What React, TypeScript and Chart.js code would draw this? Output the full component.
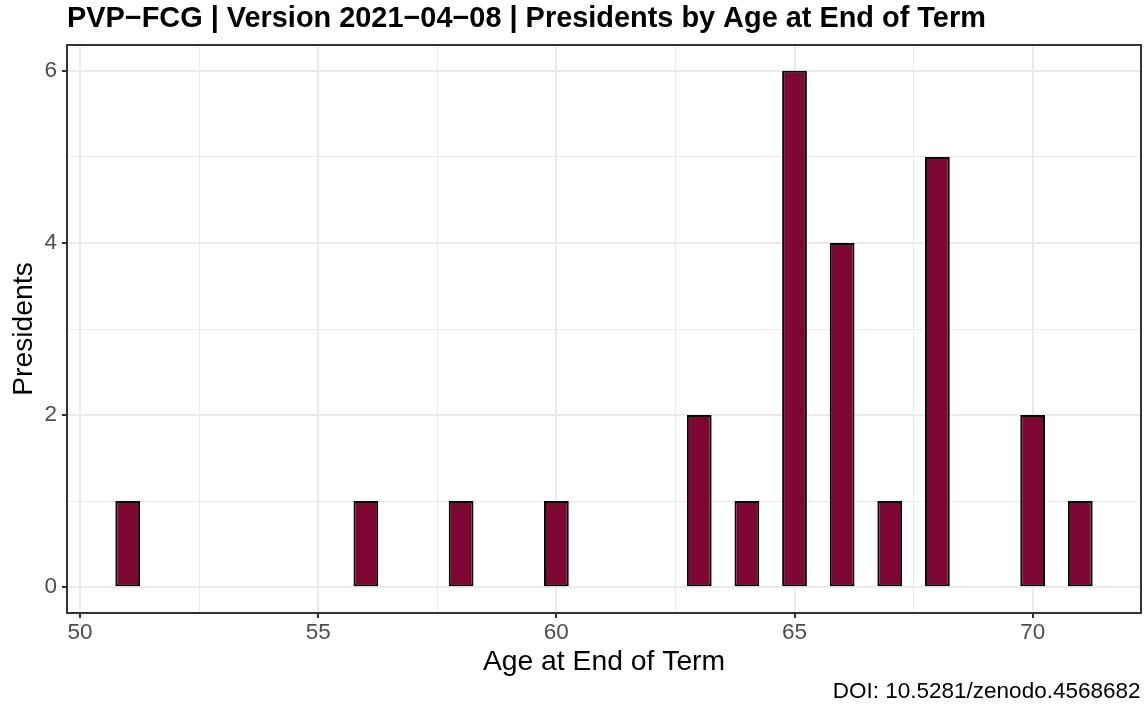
import React, { useEffect, useRef } from "react";
import { Chart, registerables } from "chart.js";

Chart.register(...registerables);

const ages = [51, 56, 58, 60, 63, 64, 65, 66, 67, 68, 70, 71];
const presidents = [1, 1, 1, 1, 2, 1, 6, 4, 1, 5, 2, 1];
const xTicks = [50, 52.5, 55, 57.5, 60, 62.5, 65, 67.5, 70];
const yTicks = [0, 1, 2, 3, 4, 5, 6];

const titleText = "PVP\u2212FCG | Version 2021\u221204\u221208 | Presidents by Age at End of Term";
const xTitle = "Age at End of Term";
const yTitle = "Presidents";
const captionText = "DOI: 10.5281/zenodo.4568682";

const FONT = "'Liberation Sans', Arial, Helvetica, sans-serif";

const textPlugin = {
  id: "ggText",
  afterDraw(chart: any) {
    const { ctx, chartArea } = chart;
    const { left, right, top, bottom } = chartArea;
    ctx.save();
    ctx.strokeStyle = "#333333";
    ctx.lineWidth = 2;
    ctx.strokeRect(left, top, right - left, bottom - top);

    ctx.fillStyle = "#000000";
    ctx.font = `bold 28.9px ${FONT}`;
    ctx.textAlign = "left";
    ctx.textBaseline = "alphabetic";
    ctx.fillText(titleText, left, 27);

    ctx.font = `28.3px ${FONT}`;
    ctx.textAlign = "center";
    ctx.fillText(xTitle, (left + right) / 2, 669.5);

    ctx.save();
    ctx.translate(32, (top + bottom) / 2);
    ctx.rotate(-Math.PI / 2);
    ctx.textAlign = "center";
    ctx.fillText(yTitle, 0, 0);
    ctx.restore();

    ctx.font = `22.5px ${FONT}`;
    ctx.textAlign = "right";
    ctx.fillText(captionText, 1140.5, 698);
    ctx.restore();
  },
};

const tickVal = (c: any) => (c && c.tick && typeof c.tick.value === "number" ? c.tick.value : NaN);

export default function App() {
  const ref = useRef<HTMLCanvasElement | null>(null);

  useEffect(() => {
    if (!ref.current) return;
    const isMajorX = (v: number) => Number.isFinite(v) && Math.abs(v % 5) < 1e-9;
    const isMajorY = (v: number) => Number.isFinite(v) && Math.abs(v % 2) < 1e-9;
    const chart = new Chart(ref.current, {
      type: "bar",
      data: {
        datasets: [
          {
            data: ages.map((a, i) => ({ x: a, y: presidents[i] })),
            backgroundColor: "#7E0833",
            borderColor: "#000000",
            borderWidth: 2,
            borderSkipped: false,
            inflateAmount: 0,
            barPercentage: 0.52,
            categoryPercentage: 1.0,
          },
        ],
      },
      options: {
        responsive: false,
        animation: false,
        devicePixelRatio: 1,
        layout: { padding: { left: 0, right: 5, top: 45, bottom: 0 } },
        plugins: {
          legend: { display: false },
          tooltip: { enabled: false },
          title: { display: false },
        },
        scales: {
          x: {
            type: "linear",
            offset: false,
            min: 49.725,
            max: 72.275,
            afterBuildTicks: (scale: any) => {
              scale.ticks = xTicks.map((v) => ({ value: v }));
            },
            afterFit: (scale: any) => {
              scale.height = 99;
            },
            border: { display: false },
            grid: {
              offset: false,
              color: "#EBEBEB",
              lineWidth: (c: any) => (isMajorX(tickVal(c)) ? 2 : 1),
              tickLength: 5,
              tickColor: (c: any) => (isMajorX(tickVal(c)) ? "#333333" : "rgba(0,0,0,0)"),
              tickWidth: 2,
            },
            ticks: {
              autoSkip: false,
              maxRotation: 0,
              padding: 1,
              color: "#4D4D4D",
              font: { family: FONT, size: 22.5 },
              callback: (v: any) => (isMajorX(Number(v)) ? String(v) : ""),
            },
          },
          y: {
            type: "linear",
            min: -0.3,
            max: 6.3,
            afterBuildTicks: (scale: any) => {
              scale.ticks = yTicks.map((v) => ({ value: v }));
            },
            afterFit: (scale: any) => {
              scale.width = 67;
            },
            border: { display: false },
            grid: {
              color: "#EBEBEB",
              lineWidth: (c: any) => (isMajorY(tickVal(c)) ? 2 : 1),
              tickLength: 5,
              tickColor: (c: any) => (isMajorY(tickVal(c)) ? "#333333" : "rgba(0,0,0,0)"),
              tickWidth: 2,
            },
            ticks: {
              autoSkip: false,
              padding: 5,
              color: "#4D4D4D",
              font: { family: FONT, size: 22.5 },
              callback: (v: any) => (isMajorY(Number(v)) ? String(v) : ""),
            },
          },
        },
      },
      plugins: [textPlugin],
    } as any);
    return () => chart.destroy();
  }, []);

  return (
    <div style={{ position: "fixed", left: 0, top: 0, width: 1146, height: 712, background: "#ffffff" }}>
      <canvas ref={ref} width={1146} height={712} style={{ width: 1146, height: 712, display: "block" }} />
    </div>
  );
}
